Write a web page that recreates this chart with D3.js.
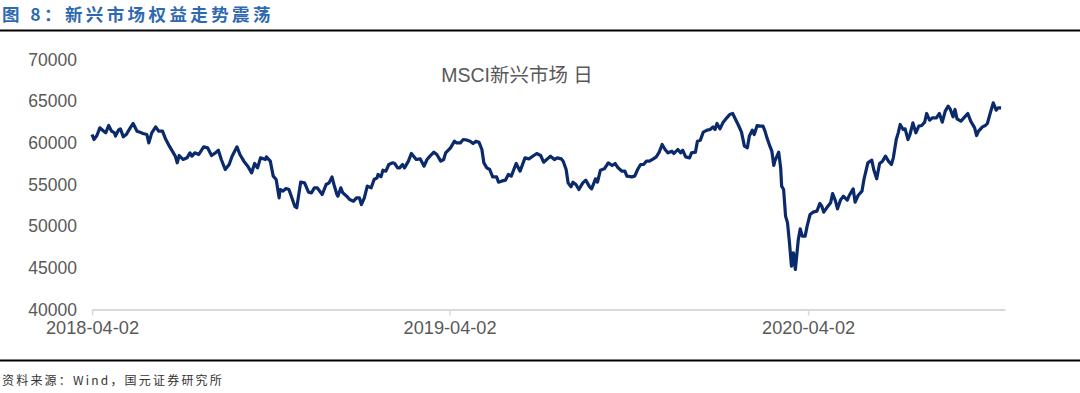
<!DOCTYPE html>
<html><head><meta charset="utf-8">
<script src="https://cdn.jsdelivr.net/npm/d3@7"></script>
<style>
html,body{margin:0;padding:0;background:#fff;}
svg{display:block;}
</style></head>
<body>
<svg id="chart" width="1080" height="393"></svg>
<script>
const figureTitle = "图 8：新兴市场权益走势震荡";
const chartTitle = "MSCI新兴市场 日";
const sourceText = "资料来源：Wind，国元证券研究所";
const yTicks = [40000, 45000, 50000, 55000, 60000, 65000, 70000];
const xTickLabels = ["2018-04-02", "2019-04-02", "2020-04-02"];
const xDomain = ["2018-04-02", "2020-10-20"];

const dates = [
"2018-04-02","2018-04-04","2018-04-07","2018-04-10","2018-04-14","2018-04-16","2018-04-19","2018-04-22","2018-04-25","2018-04-26",
"2018-04-29","2018-05-01","2018-05-04","2018-05-07","2018-05-11","2018-05-14","2018-05-18","2018-05-21","2018-05-24","2018-05-28",
"2018-05-30","2018-06-02","2018-06-06","2018-06-09","2018-06-13","2018-06-16","2018-06-20","2018-06-23","2018-06-26","2018-06-28",
"2018-06-30","2018-07-04","2018-07-08","2018-07-11","2018-07-13","2018-07-16","2018-07-20","2018-07-25","2018-07-29","2018-08-02",
"2018-08-06","2018-08-09","2018-08-12","2018-08-16","2018-08-20","2018-08-23","2018-08-28","2018-08-31","2018-09-04","2018-09-08",
"2018-09-12","2018-09-15","2018-09-18","2018-09-21","2018-09-26","2018-09-27","2018-10-01","2018-10-04","2018-10-07","2018-10-10",
"2018-10-11","2018-10-14","2018-10-17","2018-10-20","2018-10-23","2018-10-26","2018-10-28","2018-11-01","2018-11-05","2018-11-09",
"2018-11-12","2018-11-15","2018-11-18","2018-11-23","2018-11-27","2018-11-30","2018-12-03","2018-12-05","2018-12-08","2018-12-09",
"2018-12-12","2018-12-14","2018-12-18","2018-12-21","2018-12-25","2018-12-28","2018-12-31",
"2019-01-02","2019-01-05","2019-01-08","2019-01-12","2019-01-15","2019-01-18","2019-01-19","2019-01-22","2019-01-24","2019-01-27",
"2019-01-30","2019-02-03","2019-02-05","2019-02-08","2019-02-10","2019-02-13","2019-02-15","2019-02-19","2019-02-22","2019-02-27",
"2019-03-03","2019-03-07","2019-03-10","2019-03-13","2019-03-17","2019-03-20","2019-03-24","2019-03-27","2019-03-29","2019-04-03",
"2019-04-07","2019-04-09","2019-04-13","2019-04-16","2019-04-20","2019-04-23","2019-04-26","2019-04-29","2019-05-02","2019-05-05",
"2019-05-07","2019-05-10","2019-05-13","2019-05-16","2019-05-20","2019-05-22","2019-05-25","2019-05-29","2019-06-01","2019-06-04",
"2019-06-09","2019-06-13","2019-06-18","2019-06-22","2019-06-27","2019-06-30","2019-07-04","2019-07-07","2019-07-11","2019-07-14",
"2019-07-18","2019-07-21","2019-07-25","2019-07-27","2019-07-30","2019-08-01","2019-08-04","2019-08-06","2019-08-09","2019-08-12",
"2019-08-16","2019-08-19","2019-08-23","2019-08-25","2019-08-29","2019-08-31","2019-09-03","2019-09-07","2019-09-11","2019-09-15",
"2019-09-18","2019-09-21","2019-09-25","2019-09-28","2019-09-30","2019-10-05","2019-10-08","2019-10-11","2019-10-14","2019-10-17",
"2019-10-20","2019-10-23","2019-10-27","2019-10-30","2019-11-02","2019-11-05","2019-11-08","2019-11-11","2019-11-15","2019-11-17",
"2019-11-21","2019-11-24","2019-11-26","2019-11-29","2019-12-03","2019-12-05","2019-12-09","2019-12-11","2019-12-14","2019-12-17",
"2019-12-21","2019-12-24","2019-12-27","2019-12-29","2019-12-31",
"2020-01-03","2020-01-06","2020-01-10","2020-01-13","2020-01-16","2020-01-19","2020-01-22","2020-01-25","2020-01-28","2020-01-31",
"2020-02-02","2020-02-05","2020-02-07","2020-02-10","2020-02-13","2020-02-16","2020-02-18","2020-02-20","2020-02-23","2020-02-25",
"2020-02-27","2020-02-28","2020-03-03","2020-03-05","2020-03-06","2020-03-08","2020-03-10","2020-03-12","2020-03-14","2020-03-16",
"2020-03-18","2020-03-20","2020-03-23","2020-03-25","2020-03-27","2020-03-30","2020-04-01","2020-04-04","2020-04-07","2020-04-11",
"2020-04-14","2020-04-16","2020-04-18","2020-04-21","2020-04-25","2020-04-27","2020-04-30","2020-05-02","2020-05-05","2020-05-08",
"2020-05-12","2020-05-14","2020-05-18","2020-05-20","2020-05-23","2020-05-27","2020-05-29","2020-06-02","2020-06-06","2020-06-08",
"2020-06-11","2020-06-14","2020-06-17","2020-06-20","2020-06-23","2020-06-26","2020-06-28","2020-07-01","2020-07-03","2020-07-05",
"2020-07-08","2020-07-10","2020-07-13","2020-07-15","2020-07-18","2020-07-21","2020-07-24","2020-07-27","2020-07-30","2020-08-01",
"2020-08-04","2020-08-07","2020-08-11","2020-08-14","2020-08-17","2020-08-20","2020-08-23","2020-08-25","2020-08-28","2020-08-30",
"2020-09-01","2020-09-05","2020-09-08","2020-09-12","2020-09-15","2020-09-19","2020-09-21","2020-09-23","2020-09-27","2020-09-30",
"2020-10-02","2020-10-05","2020-10-08","2020-10-11","2020-10-13","2020-10-16"
];

const values = [
61000,60400,60880,61800,61400,61200,62080,61400,61200,60800,
61520,61680,60720,61000,61800,62320,61400,61280,61120,61000,
60000,61200,61920,61400,61400,60480,59600,59000,58400,57600,
58480,58000,58200,58800,58400,58800,58600,59520,59400,58480,
58800,59120,58000,56800,57400,58400,59520,58600,57800,57200,
56400,57520,57000,58200,58000,58320,57800,56000,55600,53400,
54400,54200,54520,54400,53400,52400,52200,55280,55200,54080,
54000,54600,54600,53800,55000,55200,55920,55000,53800,53600,
54600,54000,53600,53200,53000,53400,53400,
52600,53400,54800,54600,55600,55800,56200,55920,56720,56600,
57400,57600,57520,57000,57000,57400,57000,57800,58720,58000,
58080,57200,58000,58400,58880,58600,57800,58000,58800,59400,
60200,60000,60000,60400,60320,60200,59920,60200,60080,59200,
57600,57000,56800,55920,55920,55280,55400,55520,56200,56000,
57520,56600,58200,58080,58480,58720,58480,57680,58080,58400,
58000,58200,58080,57800,56800,55200,54720,55280,55000,54400,
55200,55520,54720,54480,55680,55280,56720,56880,57600,57280,
57520,57000,56600,56600,56000,55920,56000,56800,57400,57400,
57800,57800,58080,58320,58880,59800,59200,58800,59000,58720,
59200,58800,59120,58320,58200,58800,58880,60200,60320,61280,
61520,61600,61920,61600,62320,
61680,62400,63000,63400,63520,62800,62080,61280,59600,59400,
60800,61520,61000,62080,62000,62000,61400,60600,59600,59000,
57280,57800,58880,57000,54800,54400,51200,50400,48000,45200,
46800,44800,48400,49680,48800,48800,50000,51400,51680,51800,
52720,52400,51680,52200,52800,53920,53000,52080,53120,53600,
53120,53680,54480,52880,53680,54200,55600,57600,57920,56800,
55680,57520,57800,58400,57800,57400,58200,60400,61200,62200,
61600,61680,60400,61000,62400,61200,62000,62080,62480,63520,
62720,63000,63000,63520,62480,63800,64400,64080,63120,64000,
62880,62600,63000,63520,62600,61800,60880,61400,61920,62080,
62320,63600,64800,63920,64200,64200
];

const parse = d3.timeParse("%Y-%m-%d");
const data = dates.map((d, i) => ({date: parse(d), value: values[i]}));

const svg = d3.select("#chart");
const W = 1080, H = 393;
const margin = {left: 92, right: 75, top: 59.5, bottom: 83.5};

const x = d3.scaleTime().domain(xDomain.map(parse)).range([margin.left, W - margin.right]);
const y = d3.scaleLinear().domain([40000, 70000]).range([H - margin.bottom, margin.top]);

// figure title
svg.append("text")
  .attr("x", 2).attr("y", 21)
  .attr("font-family", "'Noto Sans CJK SC', sans-serif")
  .attr("font-weight", 700)
  .attr("font-size", 17.5)
  .attr("letter-spacing", 3.4)
  .attr("fill", "#2f69b0")
  .text(figureTitle);

// title rule
svg.append("line").attr("x1", 0).attr("x2", W).attr("y1", 30.5).attr("y2", 30.5)
  .attr("stroke", "#000").attr("stroke-width", 2);

// footer rule
svg.append("line").attr("x1", 0).attr("x2", W).attr("y1", 360.5).attr("y2", 360.5)
  .attr("stroke", "#000").attr("stroke-width", 2);

// source
svg.append("text")
  .attr("x", 2).attr("y", 385)
  .attr("font-family", "'Noto Sans CJK SC', sans-serif")
  .attr("font-size", 12)
  .attr("letter-spacing", 2.2)
  .attr("fill", "#333")
  .text(sourceText);

// y axis
const yAxis = svg.append("g")
  .attr("transform", `translate(${margin.left},0)`)
  .call(d3.axisLeft(y).tickValues(yTicks).tickSize(0).tickPadding(15).tickFormat(d3.format("d")));
yAxis.select(".domain").remove();
yAxis.selectAll("text")
  .attr("font-family", "'Liberation Sans', Arial, sans-serif")
  .attr("font-size", 17.5)
  .attr("fill", "#595959");

// x axis
const xAxis = svg.append("g")
  .attr("transform", `translate(0,${y(40000)})`)
  .call(d3.axisBottom(x).tickValues(xTickLabels.map(parse)).tickSize(6).tickSizeOuter(0).tickPadding(6)
    .tickFormat(d3.timeFormat("%Y-%m-%d")));
xAxis.select(".domain").attr("stroke", "#d9d9d9").attr("stroke-width", 2);
xAxis.selectAll(".tick line").attr("stroke", "#d9d9d9").attr("stroke-width", 1.5);
xAxis.selectAll("text")
  .attr("font-family", "'Liberation Sans', Arial, sans-serif")
  .attr("font-size", 18.2)
  .attr("fill", "#595959");

// chart title
svg.append("text")
  .attr("x", 517).attr("y", 82)
  .attr("text-anchor", "middle")
  .attr("font-family", "'Liberation Sans', 'Noto Sans CJK SC', sans-serif")
  .attr("font-size", 19.5)
  .attr("fill", "#595959")
  .text(chartTitle);

// line
const line = d3.line().x(d => x(d.date)).y(d => y(d.value));
svg.append("path")
  .datum(data)
  .attr("fill", "none")
  .attr("stroke", "#0b2a6b")
  .attr("stroke-width", 3.2)
  .attr("stroke-linejoin", "round")
  .attr("d", line);
</script>
</body></html>
